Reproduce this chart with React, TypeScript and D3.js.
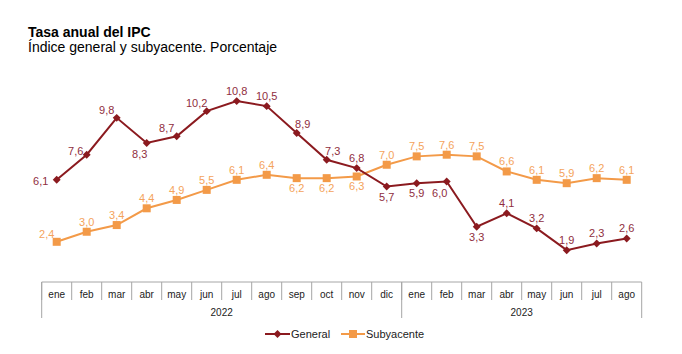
import React from "react";
import * as d3 from "d3";

const months = ["ene", "feb", "mar", "abr", "may", "jun", "jul", "ago", "sep", "oct", "nov", "dic",
  "ene", "feb", "mar", "abr", "may", "jun", "jul", "ago"];
const years = ["2022", "2023"];
const yearSpans = [12, 8];
const general = [6.1, 7.6, 9.8, 8.3, 8.7, 10.2, 10.8, 10.5, 8.9, 7.3, 6.8, 5.7, 5.9, 6.0, 3.3, 4.1, 3.2, 1.9, 2.3, 2.6];
const subyacente = [2.4, 3.0, 3.4, 4.4, 4.9, 5.5, 6.1, 6.4, 6.2, 6.2, 6.3, 7.0, 7.5, 7.6, 7.5, 6.6, 6.1, 5.9, 6.2, 6.1];
// label placement per point
const generalPos = ["l", "l2", "al", "bl", "al", "al", "a", "a", "ar", "ar", "a", "b", "b", "bl", "b", "a", "a", "a", "a", "a"];
const subyPos = ["al", "a", "a", "a", "a", "a", "a", "a", "b", "b", "b", "a", "a", "a", "a", "a", "a", "a", "a", "a"];

const W = 682;
const H = 354;
const FONT = "'Liberation Sans', Arial, sans-serif";
const RED = "#8b1a1f";
const RED_TXT = "#8f2e3e";
const ORANGE = "#f39a48";
const ORANGE_TXT = "#f4a35c";
const GRID = "#a6a6a6";

const offsets: Record<string, [number, number]> = {
  l: [-16, 1],
  l2: [-11, -4],
  al: [-10, -8],
  bl: [-7, 11],
  a: [0, -10],
  ar: [6, -9],
  b: [0, 10],
};

const fmt = (v: number) => v.toFixed(1).replace(".", ",");

export default function App() {
  const idx = months.map((_, i) => i);
  const x = d3.scaleBand<number>().domain(idx).range([41.7, 641.7]);
  const y = d3.scaleLinear().domain([0, 12]).range([282, 81]);
  const cx = (i: number) => (x(i) as number) + x.bandwidth() / 2;

  const line = d3.line<number>().x((_, i) => cx(i)).y((d) => y(d));
  const diamond = d3.symbol().type(d3.symbolDiamond2).size(40)();

  const labels = (data: number[], pos: string[], color: string, key: string) =>
    data.map((v, i) => {
      const [dx, dy] = offsets[pos[i]];
      return (
        <text key={key + i} x={cx(i) + dx} y={y(v) + dy + 4} textAnchor="middle"
          fontSize={11} fill={color}>{fmt(v)}</text>
      );
    });

  let acc = 0;
  const yearBounds = yearSpans.map((n) => {
    const start = acc;
    acc += n;
    return [start, acc];
  });
  const x0 = x.range()[0];
  const x1 = x.range()[1];

  return (
    <svg width={W} height={H} style={{ position: "absolute", left: 0, top: 0, fontFamily: FONT }}>
      <rect width={W} height={H} fill="#fff" />
      <text x={28} y={37} fontSize={14} fontWeight="bold" fill="#000">Tasa anual del IPC</text>
      <text x={28} y={52} fontSize={14} fill="#000">Índice general y subyacente. Porcentaje</text>

      {/* category axis */}
      <line x1={x0} x2={x1} y1={282} y2={282} stroke={GRID} />
      {idx.map((i) => (
        <line key={"s" + i} x1={x(i)} x2={x(i)} y1={282} y2={300} stroke={GRID} />
      ))}
      {yearBounds.map(([s]) => (
        <line key={"yb" + s} x1={x(s)} x2={x(s)} y1={282} y2={318} stroke={GRID} />
      ))}
      <line x1={x1} x2={x1} y1={282} y2={318} stroke={GRID} />
      {months.map((m, i) => (
        <text key={"m" + i} x={cx(i)} y={298} textAnchor="middle" fontSize={10} fill="#222">{m}</text>
      ))}
      {years.map((yr, k) => {
        const [s, e] = yearBounds[k];
        const mid = ((x(s) as number) + (e < months.length ? (x(e) as number) : x1)) / 2;
        return <text key={yr} x={mid} y={316} textAnchor="middle" fontSize={10} fill="#222">{yr}</text>;
      })}

      {/* series */}
      <path d={line(subyacente) || ""} fill="none" stroke={ORANGE} strokeWidth={2} />
      {subyacente.map((v, i) => (
        <rect key={"sq" + i} x={cx(i) - 4} y={y(v) - 4} width={8} height={8} fill={ORANGE} />
      ))}
      <path d={line(general) || ""} fill="none" stroke={RED} strokeWidth={2} />
      {general.map((v, i) => (
        <path key={"dm" + i} d={diamond || ""} transform={`translate(${cx(i)},${y(v)})`} fill={RED} />
      ))}
      {labels(subyacente, subyPos, ORANGE_TXT, "ls")}
      {labels(general, generalPos, RED_TXT, "lg")}

      {/* legend */}
      <line x1={265} x2={290} y1={334} y2={334} stroke={RED} strokeWidth={2} />
      <path d={diamond || ""} transform="translate(277.5,334)" fill={RED} />
      <text x={291} y={338} fontSize={11} fill="#222">General</text>
      <line x1={341} x2={365} y1={334} y2={334} stroke={ORANGE} strokeWidth={2} />
      <rect x={349} y={330} width={8} height={8} fill={ORANGE} />
      <text x={366} y={338} fontSize={11} fill="#222">Subyacente</text>
    </svg>
  );
}
